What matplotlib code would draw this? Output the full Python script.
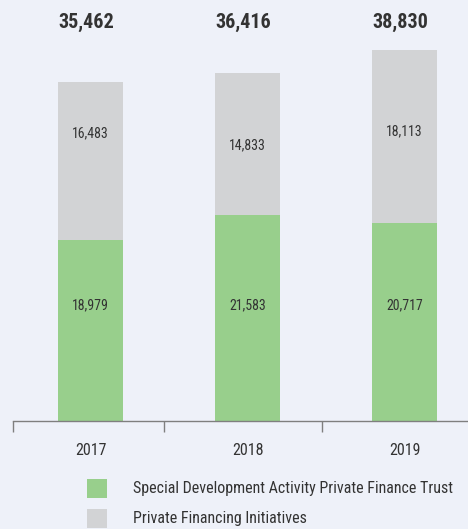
import matplotlib
matplotlib.use("Agg")
import matplotlib.pyplot as plt
from matplotlib.patches import Rectangle

years = ["2017", "2018", "2019"]
trust = [18979, 21583, 20717]
initiatives = [16483, 14833, 18113]
totals = [35462, 36416, 38830]
series_names = ["Special Development Activity Private Finance Trust",
                "Private Financing Initiatives"]

bg = "#eef1f9"
green = "#98cf8c"
grey = "#d2d3d5"
ink = "#333333"
plt.rcParams["font.family"] = ["Roboto Condensed", "DejaVu Sans"]

W, H = 468, 529
fig = plt.figure(figsize=(W / 100, H / 100), dpi=100, facecolor=bg)
ax = fig.add_axes([13 / W, 1 - 421 / H, 455 / W, 421 / H], facecolor=bg)

x = list(range(len(years)))
bw = 0.414
ax.bar(x, trust, width=bw, color=green)
ax.bar(x, initiatives, bottom=trust, width=bw, color=grey)

ax.set_xlim(-0.494, 2.404)
ax.set_ylim(0, 44040)

# segment values, totals sit flush with the bar's left edge
grey_label_y = [30130, 28870, 30340]
for i in x:
    ax.text(i, 12130, f"{trust[i]:,}", ha="center", va="center",
            fontsize=10, color=ink)
    ax.text(i, grey_label_y[i], f"{initiatives[i]:,}", ha="center",
            va="center", fontsize=10, color=ink)
    ax.text(i - bw / 2, 41740, f"{totals[i]:,}", ha="left", va="center",
            fontsize=14.5, fontweight="bold", color=ink)

for s in ["top", "left", "right"]:
    ax.spines[s].set_visible(False)
ax.spines["bottom"].set_color("#7f7f7f")
ax.spines["bottom"].set_linewidth(1)
ax.set_yticks([])
ax.set_xticks(x)
ax.set_xticklabels(years, fontsize=11.5, color=ink)
ax.tick_params(axis="x", which="major", length=0, pad=16)
ax.set_xticks([-0.494, 0.468, 1.475], minor=True)
ax.tick_params(axis="x", which="minor", length=8, width=1, color="#7f7f7f")

# legend
for k, (name, col) in enumerate(zip(series_names, [green, grey])):
    top = 479 + k * 30
    fig.add_artist(Rectangle((87 / W, 1 - (top + 19) / H), 20 / W, 19 / H,
                             transform=fig.transFigure, color=col, lw=0))
    fig.text(133 / W, 1 - (top + 10) / H, name, ha="left", va="center",
             fontsize=11.5, color=ink)

fig.savefig("out.png", dpi=100, facecolor=bg)
